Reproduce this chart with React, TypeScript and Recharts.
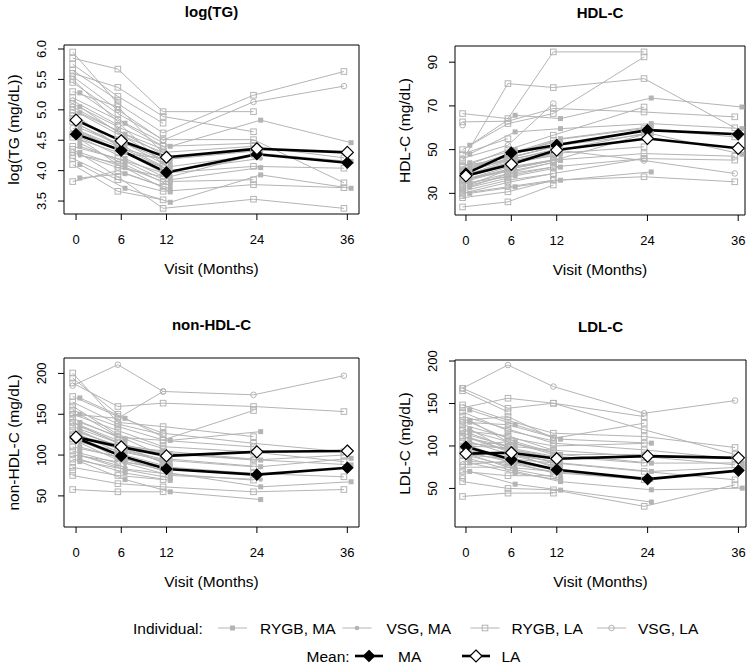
import React from "react";
import { LineChart, Line, XAxis, YAxis, ReferenceArea } from "recharts";

const GREY = "#b4b4b4";
const FONT = "'Liberation Sans', Arial, Helvetica, sans-serif";

// visits in months
const visits = [0, 6, 12, 24, 36];
const groupLabels = ["RYGB, MA", "VSG, MA", "RYGB, LA", "VSG, LA"];
const meanLabels = ["MA", "LA"];

// 0 = RYGB MA, 1 = VSG MA, 2 = RYGB LA, 3 = VSG LA
const subjectGroup = [
  0, 0, 0, 0, 0, 0, 0, 0, 0, 0, 0, 0,
  1, 1, 1, 1,
  2, 2, 2, 2, 2, 2, 2, 2, 2, 2, 2, 2, 2, 2, 2, 2, 2, 2, 2, 2, 2, 2,
  3, 3, 3, 3, 3, 3,
];

type V = number | null;
const _ = null;

// log(TG) per subject at 0, 6, 12, 24, 36 months
const tgValues: V[][] = [
  [5.28, 4.78, 4.4, 4.83, 4.46],
  [4.62, 4.3, 3.9, 4.28, 4.15],
  [4.1, 3.71, 3.48, 3.93, 3.71],
  [4.55, 4.2, 3.85, 4.05, _],
  [4.95, 4.6, 4.2, 4.35, _],
  [4.4, 4.15, 3.8, _, _],
  [3.88, 3.95, 3.7, _, _],
  [4.8, 4.45, 4.05, _, _],
  [4.3, 4.05, 3.65, _, _],
  [4.7, 4.4, _, _, _],
  [5.05, 4.55, 4.1, _, _],
  [4.5, _, _, _, _],
  [4.65, 4.35, 4.0, 4.2, _],
  [4.45, 4.1, 3.75, _, _],
  [4.75, 4.35, 4.15, _, _],
  [4.25, 4.1, _, _, _],
  [5.95, 5.1, 4.62, 5.24, 5.63],
  [5.0, 4.6, 4.3, 4.4, 4.21],
  [4.4, 4.2, 3.96, 4.07, 4.04],
  [5.45, 4.94, 4.51, 4.51, 3.8],
  [4.2, 3.85, 3.66, 3.77, 3.72],
  [4.35, 3.9, 3.38, 3.53, 3.38],
  [5.85, 5.67, 4.97, 4.97, _],
  [5.6, 5.37, 4.89, 4.64, _],
  [4.9, 4.5, 4.18, 4.32, _],
  [4.6, 4.1, 3.82, 3.85, _],
  [5.2, 4.83, 4.4, 4.45, _],
  [5.75, 5.22, 4.78, _, _],
  [5.3, 5.05, 4.29, _, _],
  [4.8, 4.45, 4.07, _, _],
  [4.1, 3.66, 3.52, _, _],
  [5.1, 4.72, 4.4, _, _],
  [3.82, 4.0, 3.74, _, _],
  [4.55, 4.3, 4.2, _, _],
  [5.65, 5.16, _, _, _],
  [4.95, 4.4, _, _, _],
  [5.5, _, 4.1, _, _],
  [4.25, _, _, _, _],
  [5.55, 5.0, 4.5, 5.13, 5.39],
  [4.7, 4.35, 4.05, 4.25, _],
  [5.05, 4.65, 4.35, _, _],
  [4.3, 4.05, 3.9, _, _],
  [5.15, 4.75, _, _, _],
  [4.85, _, _, _, _],
];
const tgMeanMA = [4.6, 4.33, 3.97, 4.27, 4.13];
const tgMeanLA = [4.83, 4.49, 4.22, 4.36, 4.3];
const tgTicks = [3.5, 4.0, 4.5, 5.0, 5.5, 6.0];

// HDL-C (mg/dL)
const hdlValues: V[][] = [
  [52, 65.7, 64.2, 73.6, 69.5],
  [48, 58.1, 59.6, 61.9, 59.6],
  [40, 47, 52, 57.3, 47.9],
  [30, 33, 36, 39.8, _],
  [42, 48, 55, 60.5, _],
  [38, 44, 48, _, _],
  [33, 40, 45, _, _],
  [39, 46, 50, _, _],
  [35, 38, 42, _, _],
  [44, 50, _, _, _],
  [41, 49, 54, _, _],
  [36, _, _, _, _],
  [38, 45, 50, 58, _],
  [34, 42, 46, _, _],
  [43, 47, 52, _, _],
  [37, 41, _, _, _],
  [62.7, 63, 68.8, 67.2, 65],
  [45, 80.2, 78.4, 82.5, 60],
  [40, 48, 54.3, 59.6, 55.8],
  [36, 42, 45.2, 48.2, 47],
  [33, 38, 42.1, 45.9, 45.2],
  [28, 30.7, 36, 37.6, 35.3],
  [66.5, 64.2, 94.7, 94.7, _],
  [50, 61.9, 66.5, 92.4, _],
  [38, 44, 48.2, 51.3, _],
  [30, 35, 39.1, 45.9, _],
  [42, 50, 56.6, 69.5, _],
  [39, 46, 51.3, _, _],
  [35, 41, 45, _, _],
  [34, 39, 42, _, _],
  [23.8, 26.1, 33.8, _, _],
  [37, 43, 48, _, _],
  [31, 36, 39, _, _],
  [36, 40, 44, _, _],
  [48, 55, _, _, _],
  [32, 37, _, _, _],
  [43, _, 47, _, _],
  [29, _, _, _, _],
  [40, 45, 50, 45, 39.1],
  [36, 41, 45, 57, _],
  [46, 52, 71.1, _, _],
  [30, 33, 36, _, _],
  [41, 48, _, _, _],
  [61.2, _, _, _, _],
];
const hdlMeanMA = [39.0, 48.6, 52.1, 58.9, 57.0];
const hdlMeanLA = [38.0, 43.3, 49.8, 55.1, 50.6];
const hdlTicks = [30, 50, 70, 90];

// non-HDL-C (mg/dL)
const nonHdlValues: V[][] = [
  [110, 95, 78, 61.1, 67.3],
  [140, 120, 95, 85.7, 96],
  [135, 112, 102, 93.9, 88],
  [92, 70, 55, 45.5, _],
  [170, 145, 118, 128.7, _],
  [125, 100, 85, _, _],
  [100, 82, 72, _, _],
  [130, 105, 90, _, _],
  [95, 78, 69, _, _],
  [150, 118, _, _, _],
  [120, 92, 80, _, _],
  [105, _, _, _, _],
  [115, 90, 75, 70, _],
  [128, 108, 88, _, _],
  [118, 96, 78, _, _],
  [100, 85, _, _, _],
  [188.2, 159.5, 163.6, 159.5, 153.3],
  [150, 130, 110.3, 103.7, 91.9],
  [171.8, 147.2, 126.7, 114.4, 104],
  [120, 100, 85.7, 77.5, 73.4],
  [75, 65, 61.1, 55, 57.8],
  [130, 112, 102.1, 93.9, 100],
  [200.5, 140, 134.9, 122.6, _],
  [155, 135, 118.5, 154.6, _],
  [118, 105, 93.9, 85.7, _],
  [95, 84, 77.5, 69.3, _],
  [145, 122, 118, 110, _],
  [135, 115, 99, _, _],
  [110, 98, 86, _, _],
  [160, 125, 108, _, _],
  [57.8, 55, 55, _, _],
  [165, 138, 125, _, _],
  [85, 75, 70, _, _],
  [125, 108, 95, _, _],
  [194.3, 150, _, _, _],
  [105, 90, _, _, _],
  [140, _, 90, _, _],
  [80, _, _, _, _],
  [185, 210.7, 177.9, 173.8, 197.2],
  [125, 112, 105, 95, _],
  [150, 145, 177.9, _, _],
  [100, 92, 85, _, _],
  [140, 118, _, _, _],
  [90, _, _, _, _],
];
const nonHdlMeanMA = [121, 99, 83, 76, 84.5];
const nonHdlMeanLA = [122, 110, 99, 104, 105];
const nonHdlTicks = [50, 100, 150, 200];

// LDL-C (mg/dL)
const ldlValues: V[][] = [
  [85, 70, 58, 48.4, 50.4],
  [120, 90, 80, 70, 75],
  [128, 105, 90, 79.8, 80],
  [70, 55, 48, 34, _],
  [142.4, 125, 108, 103.3, _],
  [105, 88, 75, _, _],
  [90, 72, 62, _, _],
  [115, 95, 85, _, _],
  [80, 68, 60, _, _],
  [130, 100, _, _, _],
  [100, 82, 70, _, _],
  [95, _, _, _, _],
  [98, 78, 68, 60, _],
  [110, 92, 78, _, _],
  [92, 80, 66, _, _],
  [88, 75, _, _, _],
  [148.3, 130, 115, 111.1, 98.2],
  [110, 100, 95, 87.6, 77.8],
  [135, 120, 103.3, 95.4, 85],
  [90, 85, 80, 70, 60.2],
  [58, 50, 48.4, 28.9, 54.3],
  [167.9, 144.4, 150.3, 119, 90],
  [145, 156.2, 150.3, 134.6, _],
  [130, 134.6, 109, 126.8, _],
  [100, 98, 88, 79.8, _],
  [75, 75, 70, 60.2, _],
  [125, 110, 100, 103, _],
  [120, 105, 92, _, _],
  [95, 90, 82, _, _],
  [118, 112, 95, _, _],
  [40.6, 44.5, 44.5, _, _],
  [140, 118, 106, _, _],
  [70, 65, 65, _, _],
  [105, 96, 86, _, _],
  [165, 140, _, _, _],
  [82, 80, _, _, _],
  [112, _, 75, _, _],
  [65, _, _, _, _],
  [167.9, 195.3, 169.9, 138.5, 153.4],
  [100, 105, 90, 90, _],
  [128, 125, 110, _, _],
  [78, 82, 72, _, _],
  [115, 100, _, _, _],
  [62, _, _, _, _],
];
const ldlMeanMA = [99, 84, 72, 61, 71];
const ldlMeanLA = [91, 92, 85, 88, 86];
const ldlTicks = [50, 100, 150, 200];

// small horizontal offset per group so markers don't overlap (MA right, LA left)
const groupJitter = [0.5, 0.5, -0.45, -0.45];

type Box = { l: number; r: number; t: number; b: number };
type Panel = {
  title: string;
  yLabel: string;
  values: V[][];
  meanMA: number[];
  meanLA: number[];
  yTicks: number[];
  yDomain: [number, number];
  xDomain: [number, number];
  box: Box;
  fmt: (v: number) => string;
};

const panels: Panel[] = [
  {
    title: "log(TG)", yLabel: "log(TG (mg/dL))", values: tgValues, meanMA: tgMeanMA, meanLA: tgMeanLA,
    yTicks: tgTicks, yDomain: [3.287, 6.066], xDomain: [-1.6, 37.55],
    box: { l: 64, r: 359, t: 45, b: 214 }, fmt: (v) => v.toFixed(1),
  },
  {
    title: "HDL-C", yLabel: "HDL-C (mg/dL)", values: hdlValues, meanMA: hdlMeanMA, meanLA: hdlMeanLA,
    yTicks: hdlTicks, yDomain: [20.1, 97.4], xDomain: [-1.45, 36.9],
    box: { l: 455, r: 745, t: 46, b: 215 }, fmt: (v) => String(v),
  },
  {
    title: "non-HDL-C", yLabel: "non-HDL-C (mg/dL)", values: nonHdlValues, meanMA: nonHdlMeanMA, meanLA: nonHdlMeanLA,
    yTicks: nonHdlTicks, yDomain: [11.9, 218.9], xDomain: [-1.6, 37.55],
    box: { l: 64, r: 359, t: 358, b: 527 }, fmt: (v) => String(v),
  },
  {
    title: "LDL-C", yLabel: "LDL-C (mg/dL)", values: ldlValues, meanMA: ldlMeanMA, meanLA: ldlMeanLA,
    yTicks: ldlTicks, yDomain: [4.6, 201.2], xDomain: [-1.45, 37.0],
    box: { l: 455, r: 746, t: 360, b: 527 }, fmt: (v) => String(v),
  },
];

function IndivMark({ cx, cy, group }: { cx: number; cy: number; group: number }) {
  if (cx == null || cy == null) return null;
  if (group === 0) return <rect x={cx - 2.5} y={cy - 2.5} width={5} height={5} fill={GREY} />;
  if (group === 1) return <circle cx={cx} cy={cy} r={2.3} fill={GREY} />;
  if (group === 2) return <rect x={cx - 2.8} y={cy - 2.8} width={5.6} height={5.6} fill="#fff" fillOpacity={0} stroke={GREY} strokeWidth={1} />;
  return <circle cx={cx} cy={cy} r={2.8} fill="none" stroke={GREY} strokeWidth={1} />;
}

function Diamond({ cx, cy, filled }: { cx: number; cy: number; filled: boolean }) {
  if (cx == null || cy == null) return null;
  const s = filled ? 5.5 : 6;
  return (
    <path
      d={`M${cx},${cy - s}L${cx + s},${cy}L${cx},${cy + s}L${cx - s},${cy}Z`}
      fill={filled ? "#000" : "#fff"}
      stroke="#000"
      strokeWidth={1.2}
    />
  );
}

function XTick(props: any) {
  const { x, y, payload } = props;
  return (
    <text x={x} y={y + 19} textAnchor="middle" dominantBaseline="central" fontSize={13} fontFamily={FONT} fill="#000">
      {payload.value}
    </text>
  );
}

function YTick(props: any) {
  const { x, y, payload, fmt } = props;
  const tx = x - 16;
  return (
    <text x={tx} y={y} transform={`rotate(-90 ${tx} ${y})`} textAnchor="middle" dominantBaseline="central" fontSize={13} fontFamily={FONT} fill="#000">
      {fmt(payload.value)}
    </text>
  );
}

function PanelChart({ p }: { p: Panel }) {
  const { l, r, t, b } = p.box;
  const padL = 64, padT = 50, padR = 10, padB = 40;
  const width = r - l + padL + padR;
  const height = b - t + padT + padB;
  const meanData = (vals: number[]) => vals.map((v, k) => ({ x: visits[k], y: v }));
  return (
    <div style={{ position: "absolute", left: l - padL, top: t - padT, width, height }}>
      <LineChart width={width} height={height} margin={{ top: padT, left: padL - 40, right: padR, bottom: padB - 30 }}>
        <XAxis
          type="number" dataKey="x" domain={p.xDomain} ticks={visits} interval={0} allowDataOverflow
          height={30} axisLine={false} tickLine={{ stroke: "#000" }} tickSize={6} tickMargin={0} tick={<XTick />}
        />
        <YAxis
          type="number" dataKey="y" domain={p.yDomain} ticks={p.yTicks} interval={0} allowDataOverflow
          width={40} axisLine={false} tickLine={{ stroke: "#000" }} tickSize={6} tickMargin={0} tick={<YTick fmt={p.fmt} />}
        />
        <ReferenceArea
          x1={p.xDomain[0]} x2={p.xDomain[1]} y1={p.yDomain[0]} y2={p.yDomain[1]}
          fill="none" fillOpacity={0} stroke="#000" strokeWidth={1}
        />
        {p.values.map((row, i) => {
          const g = subjectGroup[i];
          const data = row
            .map((v, k) => (v == null ? null : { x: visits[k] + groupJitter[g], y: v }))
            .filter((d) => d != null);
          return (
            <Line
              key={`s${i}`}
              data={data}
              dataKey="y"
              type="linear"
              stroke={GREY}
              strokeWidth={1}
              isAnimationActive={false}
              activeDot={false}
              dot={(d: any) => <IndivMark key={`s${i}-${d.index}`} cx={d.cx} cy={d.cy} group={g} />}
            />
          );
        })}
        <Line
          data={meanData(p.meanMA)} dataKey="y" type="linear" stroke="#000" strokeWidth={2.6}
          isAnimationActive={false} activeDot={false}
          dot={(d: any) => <Diamond key={`ma-${d.index}`} cx={d.cx} cy={d.cy} filled />}
        />
        <Line
          data={meanData(p.meanLA)} dataKey="y" type="linear" stroke="#000" strokeWidth={2.6}
          isAnimationActive={false} activeDot={false}
          dot={(d: any) => <Diamond key={`la-${d.index}`} cx={d.cx} cy={d.cy} filled={false} />}
        />
      </LineChart>
    </div>
  );
}

function LegendMark({ x, y, group }: { x: number; y: number; group: number }) {
  return (
    <g>
      <line x1={x - 14.5} x2={x + 14.5} y1={y} y2={y} stroke={GREY} strokeWidth={1} />
      <IndivMark cx={x} cy={y} group={group} />
    </g>
  );
}

function Overlay() {
  const legendRow1 = 628;
  const legendRow2 = 656;
  const indivMarkX = [232.5, 357, 485, 611.5];
  const indivTextX = [260, 386.5, 511.5, 638];
  const meanMarkX = [369, 476];
  const meanTextX = [398, 501.5];
  return (
    <svg width={752} height={666} style={{ position: "absolute", left: 0, top: 0, pointerEvents: "none" }} fontFamily={FONT}>
      {panels.map((p, i) => {
        const cx = (p.box.l + p.box.r) / 2;
        const cy = (p.box.t + p.box.b) / 2;
        const lx = p.box.l - 51;
        return (
          <g key={i}>
            <text x={cx} y={p.box.t - 34} textAnchor="middle" dominantBaseline="central" fontSize={15} fontWeight="bold" fill="#000">
              {p.title}
            </text>
            <text x={cx} y={p.box.b + 54} textAnchor="middle" dominantBaseline="central" fontSize={15.5} fill="#000">
              Visit (Months)
            </text>
            <text x={lx} y={cy} transform={`rotate(-90 ${lx} ${cy})`} textAnchor="middle" dominantBaseline="central" fontSize={15.5} fill="#000">
              {p.yLabel}
            </text>
          </g>
        );
      })}
      <text x={133} y={legendRow1} dominantBaseline="central" fontSize={15.5} fill="#000">Individual:</text>
      {groupLabels.map((g, i) => (
        <g key={g}>
          <LegendMark x={indivMarkX[i]} y={legendRow1} group={i} />
          <text x={indivTextX[i]} y={legendRow1} dominantBaseline="central" fontSize={15.5} fill="#000">{g}</text>
        </g>
      ))}
      <text x={306.5} y={legendRow2} dominantBaseline="central" fontSize={15.5} fill="#000">Mean:</text>
      {meanLabels.map((m, i) => (
        <g key={m}>
          <line x1={meanMarkX[i] - 14} x2={meanMarkX[i] + 14} y1={legendRow2} y2={legendRow2} stroke="#000" strokeWidth={2.6} />
          <Diamond cx={meanMarkX[i]} cy={legendRow2} filled={i === 0} />
          <text x={meanTextX[i]} y={legendRow2} dominantBaseline="central" fontSize={15.5} fill="#000">{m}</text>
        </g>
      ))}
    </svg>
  );
}

export default function App() {
  return (
    <div style={{ position: "absolute", left: 0, top: 0, width: 752, height: 666, background: "#fff", overflow: "hidden" }}>
      {panels.map((p, i) => (
        <PanelChart key={i} p={p} />
      ))}
      <Overlay />
    </div>
  );
}
